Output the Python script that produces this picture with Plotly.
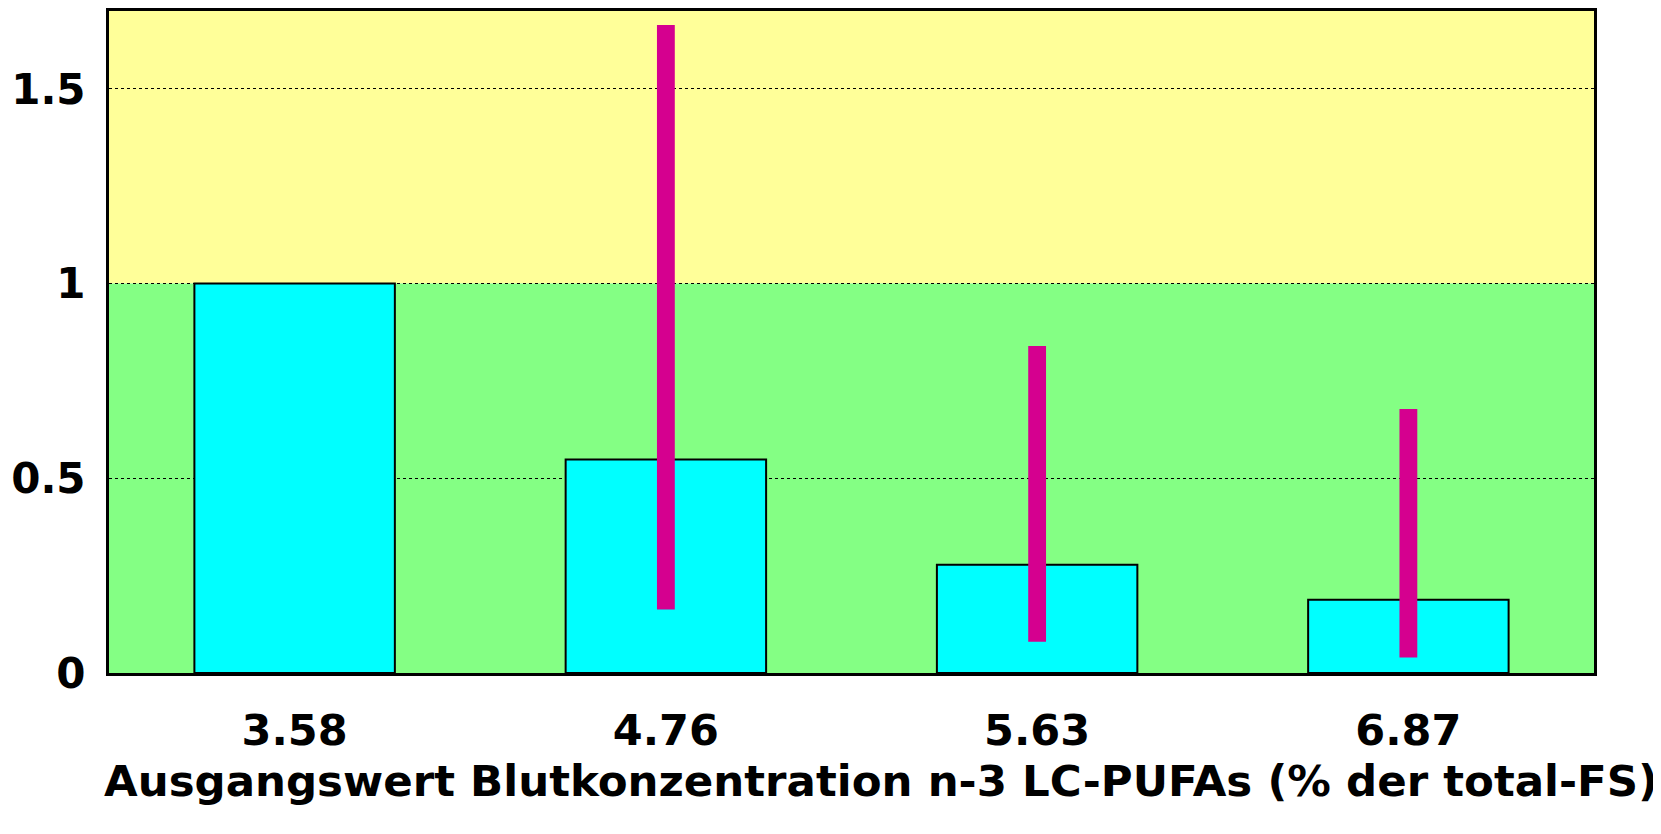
import plotly.graph_objects as go

categories = ["3.58", "4.76", "5.63", "6.87"]
values = [1.0, 0.548, 0.278, 0.188]
ci_low = [None, 0.163, 0.080, 0.040]
ci_high = [None, 1.664, 0.840, 0.678]
y_ticks = [0, 0.5, 1, 1.5]
y_tick_text = ["0", "0.5", "1", "1.5"]
x_title = "Ausgangswert Blutkonzentration n-3 LC-PUFAs (% der total-FS)"

FONT = "DejaVu Sans"

ci_len = [None if lo is None else hi - lo for lo, hi in zip(ci_low, ci_high)]

fig = go.Figure()
fig.add_trace(go.Bar(
    x=categories, y=values, width=0.54,
    marker=dict(color="#00FFFF", line=dict(color="black", width=2)),
    showlegend=False, hoverinfo="x+y",
))
fig.add_trace(go.Bar(
    x=categories, y=ci_len, base=ci_low, width=0.048,
    marker=dict(color="#D5008F", line=dict(width=0)),
    showlegend=False,
))

fig.update_layout(
    width=1653, height=826,
    margin=dict(l=101, r=67, t=0, b=161),
    paper_bgcolor="white", plot_bgcolor="rgba(0,0,0,0)",
    barmode="overlay",
    font=dict(family=FONT, color="black"),
    shapes=[
        dict(type="rect", xref="paper", yref="y", x0=0, x1=1, y0=1, y1=1.7,
             fillcolor="#FFFF99", line=dict(width=0), layer="below"),
        dict(type="rect", xref="paper", yref="y", x0=0, x1=1, y0=0, y1=1,
             fillcolor="#84FF84", line=dict(width=0), layer="below"),
    ],
    annotations=[
        dict(text=x_title, xref="paper", yref="paper", x=0.52, y=0,
             xanchor="center", yanchor="middle", yshift=-108, showarrow=False,
             font=dict(family=FONT, size=43.5, color="black", weight="bold")),
    ],
)
fig.update_yaxes(
    range=[0, 1.7], tickvals=y_ticks, ticktext=y_tick_text,
    showgrid=True, gridcolor="black", gridwidth=1, griddash="dot",
    showline=True, linecolor="black", linewidth=3, mirror=True,
    ticks="", ticklabelstandoff=12,
    tickfont=dict(family=FONT, size=42, color="black", weight="bold"),
    zeroline=False,
)
fig.update_xaxes(
    showline=True, linecolor="black", linewidth=3, mirror=True,
    ticks="", showgrid=False, ticklabelstandoff=17,
    tickfont=dict(family=FONT, size=43, color="black", weight="bold"),
)

fig.write_html("out.html")
